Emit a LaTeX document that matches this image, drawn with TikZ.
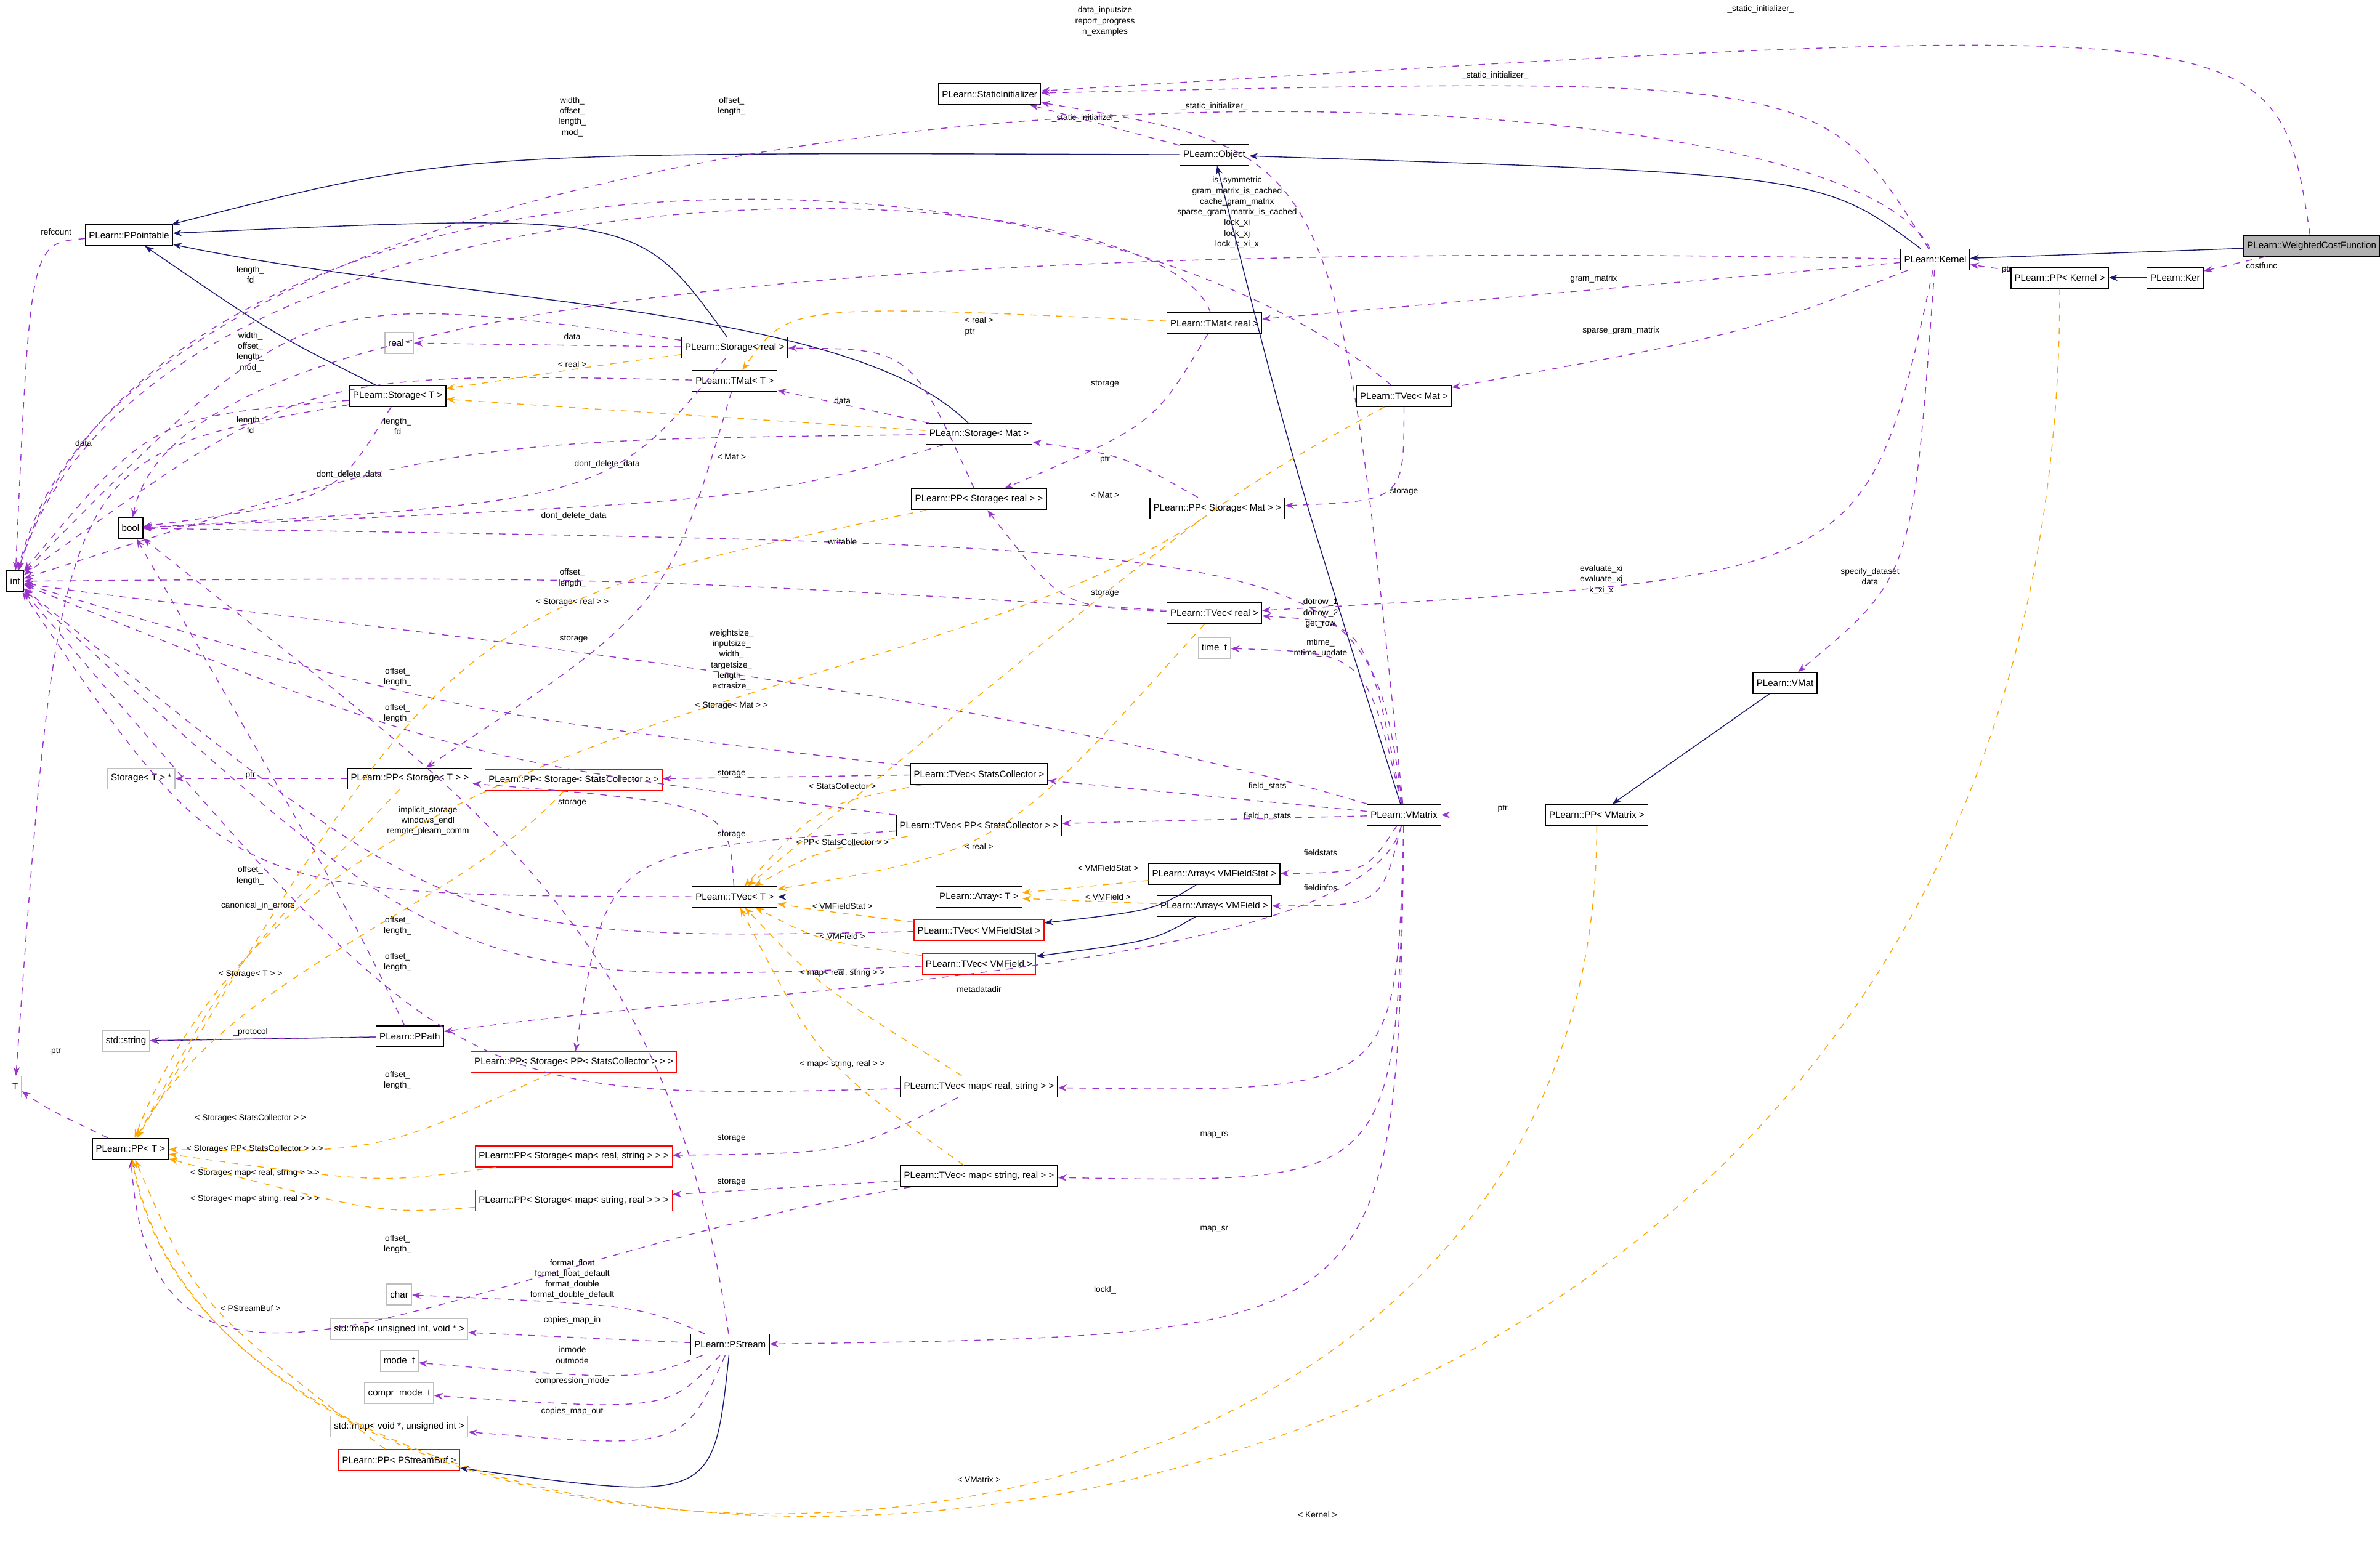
\documentclass[tikz,border=0pt]{standalone}
\usepackage{fontspec}
\setmainfont{Liberation Sans}
\usetikzlibrary{arrows.meta}
\definecolor{navy}{rgb}{0.1,0.1,0.44}
\definecolor{usecol}{HTML}{9A32CD}
\definecolor{tplcol}{HTML}{FFA500}
\tikzset{
  cls/.style={draw, rectangle, inner sep=1.6pt, minimum height=0.34cm, font=\fontsize{4.3}{5}\selectfont},
  ext/.style={cls, draw=gray!50},
  bad/.style={cls, draw=red},
  hl/.style={cls, fill=gray!60},
  inh/.style={draw=navy, -{Stealth[length=4pt,width=3pt]}},
  use/.style={draw=usecol, dashed, -{Stealth[length=4pt,width=3pt]}},
  tpl/.style={draw=tplcol, dashed, -{Stealth[length=4pt,width=3pt]}},
  lbl/.style={align=center, inner sep=0pt, font=\fontsize{3.9}{4.9}\selectfont}
}
\begin{document}
\begin{tikzpicture}[x=0.02464cm, y=-0.02464cm]
\useasboundingbox (0,0) rectangle (1568,1021);
% classes
\node[cls] (SI) at (652,62) {PLearn::StaticInitializer};
\node[cls] (Obj) at (800,102) {PLearn::Object};
\node[hl] (WCF) at (1523,162) {PLearn::WeightedCostFunction};
\node[cls] (Kern) at (1275,171) {PLearn::Kernel};
\node[cls] (PPKern) at (1357,183) {PLearn::PP< Kernel >};
\node[cls] (Ker) at (1433,183) {PLearn::Ker};
\node[cls] (PPtbl) at (85,155) {PLearn::PPointable};
\node[ext] (realp) at (263,226) {real *};
\node[cls] (StorReal) at (484,229) {PLearn::Storage< real >};
\node[cls] (TMatReal) at (800,213) {PLearn::TMat< real >};
\node[cls] (TMatT) at (484,251) {PLearn::TMat< T >};
\node[cls] (StorT) at (262,261) {PLearn::Storage< T >};
\node[cls] (TVecMat) at (925,261) {PLearn::TVec< Mat >};
\node[cls] (StorMat) at (645,286) {PLearn::Storage< Mat >};
\node[cls] (bool) at (86,348) {bool};
\node[cls] (PPStorReal) at (645,329) {PLearn::PP< Storage< real > >};
\node[cls] (PPStorMat) at (802,335) {PLearn::PP< Storage< Mat > >};
\node[cls] (int) at (10,383) {int};
\node[cls] (TVecReal) at (800,404) {PLearn::TVec< real >};
\node[ext] (timet) at (800,427) {time\_t};
\node[cls] (VMat) at (1176,450) {PLearn::VMat};
\node[ext] (StorTp) at (93,513) {Storage< T > *};
\node[cls] (PPStorT) at (270,513) {PLearn::PP< Storage< T > >};
\node[bad] (PPStorSC) at (378,514) {PLearn::PP< Storage< StatsCollector > >};
\node[cls] (TVecSC) at (645,510) {PLearn::TVec< StatsCollector >};
\node[cls] (VMatrix) at (925,537) {PLearn::VMatrix};
\node[cls] (PPVMatrix) at (1052,537) {PLearn::PP< VMatrix >};
\node[cls] (TVecPPSC) at (645,544) {PLearn::TVec< PP< StatsCollector > >};
\node[cls] (ArrVMFS) at (800,576) {PLearn::Array< VMFieldStat >};
\node[cls] (TVecT) at (484,591) {PLearn::TVec< T >};
\node[cls] (ArrT) at (645,591) {PLearn::Array< T >};
\node[cls] (ArrVMF) at (800,597) {PLearn::Array< VMField >};
\node[bad] (TVecVMFS) at (645,613) {PLearn::TVec< VMFieldStat >};
\node[bad] (TVecVMF) at (645,635) {PLearn::TVec< VMField >};
\node[cls] (PPath) at (270,683) {PLearn::PPath};
\node[ext] (stdstr) at (83,686) {std::string};
\node[bad] (PPStorPPSC) at (378,700) {PLearn::PP< Storage< PP< StatsCollector > > >};
\node[ext] (Tt) at (10,716) {T};
\node[cls] (TVecMRS) at (645,716) {PLearn::TVec< map< real, string > >};
\node[cls] (PPT) at (86,757) {PLearn::PP< T >};
\node[bad] (PPStorMRS) at (378,762) {PLearn::PP< Storage< map< real, string > > >};
\node[cls] (TVecMSR) at (645,775) {PLearn::TVec< map< string, real > >};
\node[bad] (PPStorMSR) at (378,791) {PLearn::PP< Storage< map< string, real > > >};
\node[ext] (char) at (263,853) {char};
\node[ext] (mapin) at (263,876) {std::map< unsigned int, void * >};
\node[cls] (PStream) at (481,886) {PLearn::PStream};
\node[ext] (modet) at (263,897) {mode\_t};
\node[ext] (comprt) at (263,918) {compr\_mode\_t};
\node[ext] (mapout) at (263,940) {std::map< void *, unsigned int >};
\node[bad] (PPBuf) at (263,962) {PLearn::PP< PStreamBuf >};
% inheritance
\draw[inh] (WCF) -- (Kern);
\draw[inh] (Kern) .. controls (1200,115) .. (Obj);
\draw[inh] (Obj) .. controls (300,100) .. (PPtbl);
\draw[inh] (Ker) -- (PPKern);
\draw[inh] (StorReal) .. controls (420,140) .. (PPtbl);
\draw[inh] (StorT) .. controls (180,220) .. (PPtbl);
\draw[inh] (StorMat) .. controls (560,200) and (300,200) .. (PPtbl);
\draw[inh] (VMatrix) .. controls (850,300) .. (Obj);
\draw[inh] (VMat) -- (PPVMatrix);
\draw[inh] (ArrVMFS) .. controls (760,600) .. (TVecVMFS);
\draw[inh] (ArrVMF) .. controls (760,620) .. (TVecVMF);
\draw[inh] (ArrT) -- (TVecT);
\draw[inh] (PPath) -- (stdstr);
\draw[inh] (PStream) .. controls (470,990) .. (PPBuf);
% usage
\draw[use] (WCF) .. controls (1500,10) .. (SI) node[lbl] at (1160,6) {\_static\_initializer\_};
\draw[use] (WCF) -- (Ker) node[lbl] at (1490,175) {costfunc};
\draw[use] (PPKern) -- (Kern) node[lbl] at (1322,178) {ptr};
\draw[use] (Kern) .. controls (1200,50) .. (SI) node[lbl] at (985,50) {\_static\_initializer\_};
\draw[use] (Kern) .. controls (1200,20) and (100,20) .. (int) node[lbl] at (728,14) {data\_inputsize\\report\_progress\\n\_examples};
\draw[use] (Kern) .. controls (700,160) and (120,180) .. (bool) node[lbl] at (815,140) {is\_symmetric\\gram\_matrix\_is\_cached\\cache\_gram\_matrix\\sparse\_gram\_matrix\_is\_cached\\lock\_xi\\lock\_xj\\lock\_k\_xi\_x};
\draw[use] (Kern) -- (TMatReal) node[lbl] at (1050,184) {gram\_matrix};
\draw[use] (Kern) .. controls (1150,220) .. (TVecMat) node[lbl] at (1068,218) {sparse\_gram\_matrix};
\draw[use] (Kern) .. controls (1230,380) .. (TVecReal) node[lbl] at (1055,382) {evaluate\_xi\\evaluate\_xj\\k\_xi\_x};
\draw[use] (Kern) .. controls (1260,380) .. (VMat) node[lbl] at (1232,380) {specify\_dataset\\data};
\draw[use] (Obj) -- (SI) node[lbl] at (715,78) {\_static\_initializer\_};
\draw[use] (VMatrix) .. controls (880,100) .. (SI) node[lbl] at (800,70) {\_static\_initializer\_};
\draw[use] (PPtbl) .. controls (20,160) .. (int) node[lbl] at (37,153) {refcount};
\draw[use] (StorReal) -- (realp) node[lbl] at (377,222) {data};
\draw[use] (StorReal) .. controls (200,190) .. (int) node[lbl] at (165,181) {length\_\\fd};
\draw[use] (StorReal) .. controls (400,330) .. (bool) node[lbl] at (400,306) {dont\_delete\_data};
\draw[use] (TMatReal) .. controls (760,100) and (100,90) .. (int) node[lbl] at (377,77) {width\_\\offset\_\\length\_\\mod\_};
\draw[use] (TMatReal) .. controls (760,280) .. (PPStorReal) node[lbl] at (728,253) {storage};
\draw[use] (TMatT) .. controls (200,245) .. (int) node[lbl] at (165,232) {width\_\\offset\_\\length\_\\mod\_};
\draw[use] (TMatT) .. controls (440,400) .. (PPStorT) node[lbl] at (378,421) {storage};
\draw[use] (StorT) .. controls (100,275) .. (int) node[lbl] at (165,280) {length\_\\fd};
\draw[use] (StorT) .. controls (220,330) .. (bool) node[lbl] at (230,313) {dont\_delete\_data};
\draw[use] (StorT) .. controls (40,300) .. (Tt) node[lbl] at (55,292) {data};
\draw[use] (StorMat) -- (TMatT) node[lbl] at (555,264) {data};
\draw[use] (StorMat) .. controls (300,290) .. (int) node[lbl] at (262,281) {length\_\\fd};
\draw[use] (StorMat) .. controls (500,330) .. (bool) node[lbl] at (378,340) {dont\_delete\_data};
\draw[use] (PPStorReal) .. controls (600,230) .. (StorReal) node[lbl] at (639,219) {ptr};
\draw[use] (PPStorMat) .. controls (740,300) .. (StorMat) node[lbl] at (728,303) {ptr};
\draw[use] (TVecMat) .. controls (925,330) .. (PPStorMat) node[lbl] at (925,324) {storage};
\draw[use] (TVecMat) .. controls (700,70) and (100,80) .. (int) node[lbl] at (482,70) {offset\_\\length\_};
\draw[use] (TVecReal) .. controls (400,380) .. (int) node[lbl] at (377,381) {offset\_\\length\_};
\draw[use] (TVecReal) .. controls (700,400) .. (PPStorReal) node[lbl] at (728,391) {storage};
\draw[use] (VMatrix) .. controls (900,360) .. (bool) node[lbl] at (555,357) {writable};
\draw[use] (VMatrix) .. controls (900,410) .. (TVecReal) node[lbl] at (870,404) {dotrow\_1\\dotrow\_2\\get\_row};
\draw[use] (VMatrix) .. controls (900,430) .. (timet) node[lbl] at (870,427) {mtime\_\\mtime\_update};
\draw[use] (VMatrix) .. controls (600,440) and (100,400) .. (int) node[lbl] at (482,435) {weightsize\_\\inputsize\_\\width\_\\targetsize\_\\length\_\\extrasize\_};
\draw[use] (VMatrix) -- (TVecSC) node[lbl] at (835,518) {field\_stats};
\draw[use] (VMatrix) -- (TVecPPSC) node[lbl] at (835,538) {field\_p\_stats};
\draw[use] (VMatrix) .. controls (900,575) .. (ArrVMFS) node[lbl] at (870,562) {fieldstats};
\draw[use] (VMatrix) .. controls (910,597) .. (ArrVMF) node[lbl] at (870,585) {fieldinfos};
\draw[use] (VMatrix) .. controls (900,640) and (500,650) .. (PPath) node[lbl] at (645,652) {metadatadir};
\draw[use] (VMatrix) .. controls (920,720) .. (TVecMRS) node[lbl] at (800,748) {map\_rs};
\draw[use] (VMatrix) .. controls (920,780) .. (TVecMSR) node[lbl] at (800,810) {map\_sr};
\draw[use] (VMatrix) .. controls (920,880) .. (PStream) node[lbl] at (728,850) {lockf\_};
\draw[use] (PPVMatrix) -- (VMatrix) node[lbl] at (990,533) {ptr};
\draw[use] (TVecSC) .. controls (300,470) .. (int) node[lbl] at (262,446) {offset\_\\length\_};
\draw[use] (TVecSC) -- (PPStorSC) node[lbl] at (482,510) {storage};
\draw[use] (TVecPPSC) .. controls (300,500) .. (int) node[lbl] at (262,470) {offset\_\\length\_};
\draw[use] (TVecPPSC) .. controls (400,560) .. (PPStorPPSC) node[lbl] at (482,550) {storage};
\draw[use] (TVecT) .. controls (150,590) .. (int) node[lbl] at (165,577) {offset\_\\length\_};
\draw[use] (TVecT) .. controls (480,530) .. (PPStorT) node[lbl] at (377,529) {storage};
\draw[use] (TVecVMFS) .. controls (300,620) .. (int) node[lbl] at (262,610) {offset\_\\length\_};
\draw[use] (TVecVMF) .. controls (300,650) .. (int) node[lbl] at (262,634) {offset\_\\length\_};
\draw[use] (TVecMRS) .. controls (300,725) .. (int) node[lbl] at (262,712) {offset\_\\length\_};
\draw[use] (TVecMRS) .. controls (560,760) .. (PPStorMRS) node[lbl] at (482,750) {storage};
\draw[use] (TVecMSR) .. controls (300,830) and (100,980) .. (PPT) node[lbl] at (262,820) {offset\_\\length\_};
\draw[use] (TVecMSR) -- (PPStorMSR) node[lbl] at (482,779) {storage};
\draw[use] (PPStorT) -- (StorTp) node[lbl] at (165,511) {ptr};
\draw[use] (PPT) .. controls (30,730) .. (Tt) node[lbl] at (37,693) {ptr};
\draw[use] (PPath) .. controls (230,600) .. (bool) node[lbl] at (170,597) {canonical\_in\_errors};
\draw[use] (PStream) .. controls (440,600) and (300,520) .. (bool) node[lbl] at (282,541) {implicit\_storage\\windows\_endl\\remote\_plearn\_comm};
\draw[use] (PPath) -- (stdstr) node[lbl] at (165,680) {\_protocol};
\draw[use] (PStream) .. controls (420,860) .. (char) node[lbl] at (377,843) {format\_float\\format\_float\_default\\format\_double\\format\_double\_default};
\draw[use] (PStream) -- (mapin) node[lbl] at (377,870) {copies\_map\_in};
\draw[use] (PStream) .. controls (420,910) .. (modet) node[lbl] at (377,893) {inmode\\outmode};
\draw[use] (PStream) .. controls (440,930) .. (comprt) node[lbl] at (377,910) {compression\_mode};
\draw[use] (PStream) .. controls (450,955) .. (mapout) node[lbl] at (377,930) {copies\_map\_out};
% templates
\draw[tpl] (PPVMatrix) .. controls (1052,1110) and (150,1100) .. (PPT) node[lbl] at (645,975) {< VMatrix >};
\draw[tpl] (PPKern) .. controls (1357,1140) and (150,1140) .. (PPT) node[lbl] at (868,998) {< Kernel >};
\draw[tpl] (TVecSC) .. controls (540,530) .. (TVecT) node[lbl] at (555,518) {< StatsCollector >};
\draw[tpl] (TVecPPSC) .. controls (540,560) .. (TVecT) node[lbl] at (555,555) {< PP< StatsCollector > >};
\draw[tpl] (TVecReal) .. controls (660,560) .. (TVecT) node[lbl] at (645,558) {< real >};
\draw[tpl] (TVecVMFS) .. controls (540,600) .. (TVecT) node[lbl] at (555,597) {< VMFieldStat >};
\draw[tpl] (TVecVMF) .. controls (540,620) .. (TVecT) node[lbl] at (555,617) {< VMField >};
\draw[tpl] (ArrVMFS) -- (ArrT) node[lbl] at (730,572) {< VMFieldStat >};
\draw[tpl] (ArrVMF) -- (ArrT) node[lbl] at (730,591) {< VMField >};
\draw[tpl] (TVecMRS) .. controls (540,650) .. (TVecT) node[lbl] at (555,641) {< map< real, string > >};
\draw[tpl] (TVecMSR) .. controls (540,700) .. (TVecT) node[lbl] at (555,701) {< map< string, real > >};
\draw[tpl] (TVecMat) .. controls (800,330) .. (TVecT) node[lbl] at (728,326) {< Mat >};
\draw[tpl] (TMatReal) .. controls (520,200) .. (TMatT) node[lbl] at (645,211) {< real >};
\draw[tpl] (StorReal) .. controls (400,240) .. (StorT) node[lbl] at (377,240) {< real >};
\draw[tpl] (StorMat) .. controls (400,270) .. (StorT) node[lbl] at (482,301) {< Mat >};
\draw[tpl] (PPStorReal) .. controls (300,400) .. (PPT) node[lbl] at (377,397) {< Storage< real > >};
\draw[tpl] (PPStorMat) .. controls (600,470) and (200,460) .. (PPT) node[lbl] at (482,465) {< Storage< Mat > >};
\draw[tpl] (PPStorT) .. controls (150,640) .. (PPT) node[lbl] at (165,642) {< Storage< T > >};
\draw[tpl] (PPStorSC) .. controls (300,600) and (150,640) .. (PPT) node[lbl] at (165,737) {< Storage< StatsCollector > >};
\draw[tpl] (PPStorPPSC) .. controls (250,760) .. (PPT) node[lbl] at (168,757) {< Storage< PP< StatsCollector > > >};
\draw[tpl] (PPStorMRS) .. controls (250,780) .. (PPT) node[lbl] at (168,773) {< Storage< map< real, string > > >};
\draw[tpl] (PPStorMSR) .. controls (250,800) .. (PPT) node[lbl] at (168,790) {< Storage< map< string, real > > >};
\draw[tpl] (PPBuf) .. controls (130,860) .. (PPT) node[lbl] at (165,862) {< PStreamBuf >};
\end{tikzpicture}
\end{document}
